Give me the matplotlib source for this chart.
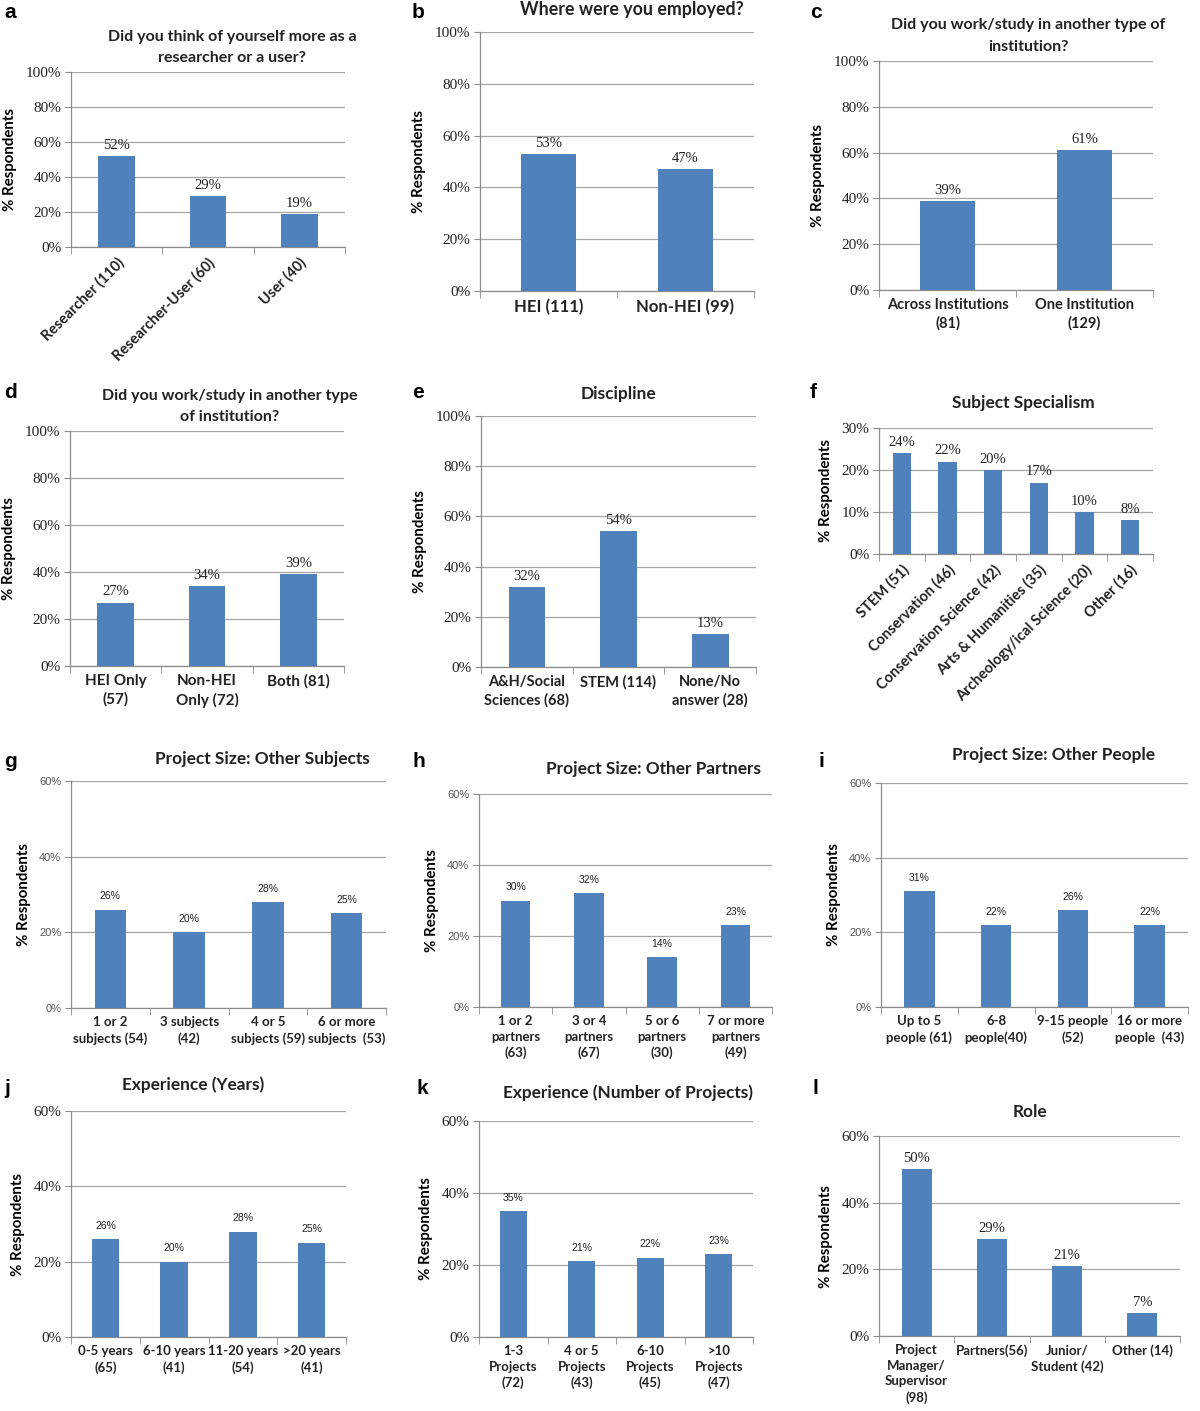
import matplotlib.pyplot as plt
import numpy as np

# figure size in pixels
W, H = 1200, 1411

BAR = '#4f81bd'
GRID = '#a6a6a6'
SANS = 'Lato'
SERIF = 'Liberation Serif'

# ---- data ----
a_labels = ['Researcher (110)', 'Researcher-User (60)', 'User (40)']
a_values = [52, 29, 19]

b_labels = ['HEI (111)', 'Non-HEI (99)']
b_values = [53, 47]

c_labels = ['Across Institutions\n(81)', 'One Institution\n(129)']
c_values = [39, 61]

d_labels = ['HEI Only\n(57)', 'Non-HEI\nOnly (72)', 'Both (81)']
d_values = [27, 34, 39]

e_labels = ['A&H/Social\nSciences (68)', 'STEM (114)', 'None/No\nanswer (28)']
e_values = [32, 54, 13]

f_labels = ['STEM (51)', 'Conservation (46)', 'Conservation Science (42)',
            'Arts & Humanities (35)', 'Archeology/ical Science (20)', 'Other (16)']
f_values = [24, 22, 20, 17, 10, 8]

g_labels = ['1 or 2\nsubjects (54)', '3 subjects\n(42)', '4 or 5\nsubjects (59)', '6 or more\nsubjects  (53)']
g_values = [26, 20, 28, 25]

h_labels = ['1 or 2\npartners\n(63)', '3 or 4\npartners\n(67)', '5 or 6\npartners\n(30)', '7 or more\npartners\n(49)']
h_values = [30, 32, 14, 23]

i_labels = ['Up to 5\npeople (61)', '6-8\npeople(40)', '9-15 people\n(52)', '16 or more\npeople  (43)']
i_values = [31, 22, 26, 22]

j_labels = ['0-5 years\n(65)', '6-10 years\n(41)', '11-20 years\n(54)', '>20 years\n(41)']
j_values = [26, 20, 28, 25]

k_labels = ['1-3\nProjects\n(72)', '4 or 5\nProjects\n(43)', '6-10\nProjects\n(45)', '>10\nProjects\n(47)']
k_values = [35, 21, 22, 23]

l_labels = ['Project\nManager/\nSupervisor\n(98)', 'Partners(56)', 'Junior/\nStudent (42)', 'Other (14)']
l_values = [50, 29, 21, 7]

fig = plt.figure(figsize=(W / 100, H / 100), dpi=100)


def px_axes(l, t, r, b):
    return fig.add_axes([l / W, 1 - b / H, (r - l) / W, (b - t) / H])


def fig_text(x, y, s, **kw):
    fig.text(x / W, 1 - y / H, s, **kw)


def panel(box, labels, values, ymax, step, style, xsize=10, rot=0, small_values=False):
    ax = px_axes(*box)
    x = np.arange(len(values))
    ax.bar(x, values, width=0.4, color=BAR, zorder=3)
    ax.set_xlim(-0.5, len(values) - 0.5)
    ax.set_ylim(0, ymax)
    ticks = np.arange(0, ymax + 0.1, step)
    ax.set_yticks(ticks)
    ax.grid(axis='y', color=GRID, lw=0.9, zorder=0)
    ax.set_axisbelow(True)
    for s in ['top', 'right']:
        ax.spines[s].set_visible(False)
    for s in ['left', 'bottom']:
        ax.spines[s].set_color('#8c8c8c')
        ax.spines[s].set_linewidth(0.9)
    ax.tick_params(axis='y', length=4, color='#8c8c8c', pad=3)

    # category ticks at boundaries, labels centred
    ax.set_xticks(np.arange(-0.5, len(values)), minor=True)
    ax.tick_params(axis='x', which='minor', length=5, color='#8c8c8c')
    ax.set_xticks(x)
    ax.tick_params(axis='x', which='major', length=0, pad=6)
    if rot:
        ax.set_xticklabels(labels, rotation=rot, ha='right', rotation_mode='anchor',
                           family=SANS, weight='bold', fontsize=xsize, color='#222222')
    else:
        ax.set_xticklabels(labels, family=SANS, weight='bold', fontsize=xsize,
                           color='#222222', linespacing=1.35)

    ylab = [f'{int(t)}%' for t in ticks]
    if style == 'serif':
        ax.set_yticklabels(ylab, family=SERIF, fontsize=11, color='#222222')
    else:
        ax.set_yticklabels(ylab, family='Liberation Sans', fontsize=8, color='#555555')
    if style == 'serif' and not small_values:
        vfont, vsize, voff = SERIF, 10.5, 3
    else:
        vfont, vsize, voff = 'Liberation Sans', 7.5, 6
    for xi, v in zip(x, values):
        ax.annotate(f'{v}%', (xi, v), xytext=(0, voff), textcoords='offset points',
                    ha='center', va='bottom', family=vfont, fontsize=vsize, color='#222222')
    ax.set_ylabel('% Respondents', family=SANS, weight='bold', fontsize=10.8, labelpad=6)
    return ax


TITLE = dict(family=SANS, weight='bold', ha='center', va='center', color='#222222')
LETTER = dict(family='Liberation Sans', weight='bold', fontsize=15, ha='left', va='center')

# row 1
panel((71, 72, 345, 247), a_labels, a_values, 100, 20, 'serif', xsize=10.5, rot=45)
fig_text(232, 37, 'Did you think of yourself more as a', fontsize=11.5, **TITLE)
fig_text(232, 58, 'researcher or a user?', fontsize=11.5, **TITLE)
fig_text(4, 13, 'a', **LETTER)

panel((480, 32, 754, 291), b_labels, b_values, 100, 20, 'serif', xsize=12)
fig_text(632, 9, 'Where were you employed?', fontsize=12.8, **TITLE)
fig_text(412, 13, 'b', **LETTER)

panel((879, 61, 1153, 290), c_labels, c_values, 100, 20, 'serif', xsize=10.5)
fig_text(1028, 25, 'Did you work/study in another type of', fontsize=11.5, **TITLE)
fig_text(1028, 47, 'institution?', fontsize=11.5, **TITLE)
fig_text(810, 13, 'c', **LETTER)

# row 2
panel((70, 431, 344, 666), d_labels, d_values, 100, 20, 'serif', xsize=11)
fig_text(230, 396, 'Did you work/study in another type', fontsize=11.5, **TITLE)
fig_text(230, 417, 'of institution?', fontsize=11.5, **TITLE)
fig_text(4, 393, 'd', **LETTER)

panel((481, 416, 756, 667), e_labels, e_values, 100, 20, 'serif', xsize=10.5)
fig_text(618, 394, 'Discipline', fontsize=12.4, **TITLE)
fig_text(412, 393, 'e', **LETTER)

panel((879, 428, 1153, 554), f_labels, f_values, 30, 10, 'serif', xsize=10.5, rot=45)
fig_text(1023, 403, 'Subject Specialism', fontsize=12.4, **TITLE)
fig_text(810, 393, 'f', **LETTER)

# row 3
panel((71, 781, 386, 1008), g_labels, g_values, 60, 20, 'small', xsize=9.5)
fig_text(262, 759, 'Project Size: Other Subjects', fontsize=12.4, **TITLE)
fig_text(4, 761, 'g', **LETTER)

panel((479, 794, 772, 1007), h_labels, h_values, 60, 20, 'small', xsize=9.5)
fig_text(653, 769, 'Project Size: Other Partners', fontsize=12.4, **TITLE)
fig_text(412, 761, 'h', **LETTER)

panel((881, 783, 1188, 1007), i_labels, i_values, 60, 20, 'small', xsize=9.5)
fig_text(1053, 755, 'Project Size: Other People', fontsize=12.4, **TITLE)
fig_text(818, 761, 'i', **LETTER)

# row 4
panel((71, 1111, 346, 1337), j_labels, j_values, 60, 20, 'serif', xsize=9.5, small_values=True)
fig_text(193, 1085, 'Experience (Years)', fontsize=12.4, **TITLE)
fig_text(4, 1088, 'j', **LETTER)

panel((479, 1121, 753, 1337), k_labels, k_values, 60, 20, 'serif', xsize=9.5, small_values=True)
fig_text(628, 1093, 'Experience (Number of Projects)', fontsize=12.4, **TITLE)
fig_text(416, 1088, 'k', **LETTER)

panel((879, 1136, 1180, 1336), l_labels, l_values, 60, 20, 'serif', xsize=9.5)
fig_text(1030, 1112, 'Role', fontsize=12.4, **TITLE)
fig_text(812, 1088, 'l', **LETTER)

fig.savefig('out.png', dpi=100)
